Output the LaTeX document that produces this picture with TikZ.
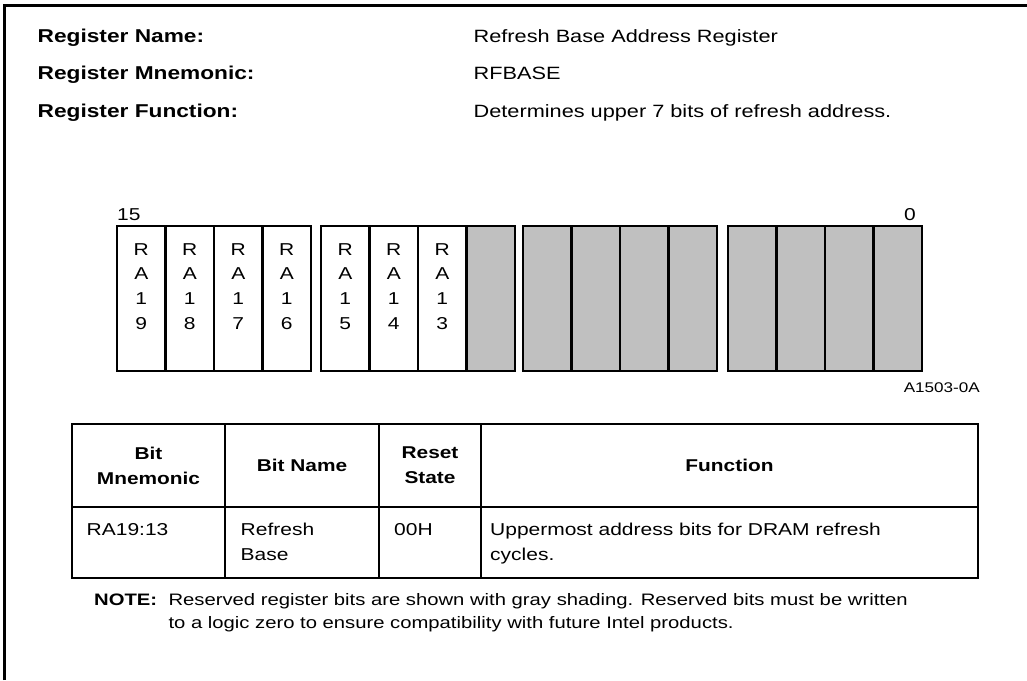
\documentclass[tikz,border=0pt]{standalone}
\usepackage{fontspec}
\setmainfont{Liberation Sans}[FakeStretch=1.22]
\usetikzlibrary{positioning}
\definecolor{regshade}{HTML}{C0C0C0}

\begin{document}
\begin{tikzpicture}[x=1pt,y=-1pt,
  bitcell/.style={rectangle, draw, line width=2.4pt, outer sep=0pt, inner sep=0pt,
                  minimum width=48.5pt, minimum height=145pt, anchor=north west},
  rsvcell/.style={bitcell, fill=regshade},
  bitlbl/.style={align=center, inner sep=0pt, font=\fontsize{17.2}{24.7}\selectfont},
  bitnum/.style={inner sep=0pt, font=\fontsize{17.2}{24.7}\selectfont},
  reglbl/.style={anchor=base west, inner sep=0pt, font=\bfseries\fontsize{18.6}{25}\selectfont},
  regval/.style={anchor=base west, inner sep=0pt, font=\fontsize{17.8}{25}\selectfont},
  hdrcell/.style={rectangle, draw, line width=2.4pt, outer sep=0pt, align=center,
                  minimum height=83pt, anchor=north west,
                  font=\bfseries\fontsize{17.1}{25}\selectfont},
  bodycell/.style={rectangle, draw, line width=2.4pt, outer sep=0pt,
                   minimum height=71pt, anchor=north west},
  bodytxt/.style={align=left, inner sep=0pt, font=\fontsize{17.2}{25}\selectfont}
]
  \useasboundingbox (0,0) rectangle (1027,680);
  \draw[line width=3pt] (4.3,680) -- (4.3,5.3) -- (1027,5.3);

  % register header
  \node[reglbl] (nmlbl) at (37.5,42) {Register Name:};
  \node[reglbl] (mnlbl) at (37.5,79) {Register Mnemonic:};
  \node[reglbl] (fnlbl) at (37.5,117) {Register Function:};
  \node[regval] (nmval) at (473.5,42) {Refresh Base Address Register};
  \node[regval] (mnval) at (473.5,79) {RFBASE};
  \node[regval] (fnval) at (473.5,117) {Determines upper 7 bits of refresh address.};

  % bit cells
  \node[bitcell] (b15) at (117,226) {};
  \node[bitcell,right=0pt of b15] (b14) {};
  \node[bitcell,right=0pt of b14] (b13) {};
  \node[bitcell,right=0pt of b13] (b12) {};
  \node[bitcell] (b11) at (321,226) {};
  \node[bitcell,right=0pt of b11] (b10) {};
  \node[bitcell,right=0pt of b10] (b9) {};
  \node[rsvcell,right=0pt of b9] (b8) {};
  \node[rsvcell] (b7) at (523,226) {};
  \node[rsvcell,right=0pt of b7] (b6) {};
  \node[rsvcell,right=0pt of b6] (b5) {};
  \node[rsvcell,right=0pt of b5] (b4) {};
  \node[rsvcell] (b3) at (728,226) {};
  \node[rsvcell,right=0pt of b3] (b2) {};
  \node[rsvcell,right=0pt of b2] (b1) {};
  \node[rsvcell,right=0pt of b1] (b0) {};

  \node[bitlbl,below=17pt of b15.north] (t15) {R\\A\\1\\9};
  \node[bitlbl,below=17pt of b14.north] (t14) {R\\A\\1\\8};
  \node[bitlbl,below=17pt of b13.north] (t13) {R\\A\\1\\7};
  \node[bitlbl,below=17pt of b12.north] (t12) {R\\A\\1\\6};
  \node[bitlbl,below=17pt of b11.north] (t11) {R\\A\\1\\5};
  \node[bitlbl,below=17pt of b10.north] (t10) {R\\A\\1\\4};
  \node[bitlbl,below=17pt of b9.north]  (t9)  {R\\A\\1\\3};

  \node[bitnum,above right=5pt and 0pt of b15.north west] (hi) {15};
  \node[bitnum,above left=5pt and 6pt of b0.north east] (lo) {0};
  \node[bitnum,anchor=base east,font=\fontsize{14}{17}\selectfont] (fig)
    at ([xshift=58pt,yshift=-21pt]b0.south east) {A1503-0A};

  % bit table
  \node[hdrcell,minimum width=153pt] (h1) at (72,424) {Bit\\Mnemonic};
  \node[hdrcell,minimum width=154pt,right=0pt of h1] (h2) {Bit Name};
  \node[hdrcell,minimum width=102pt,right=0pt of h2] (h3) {Reset\\State};
  \node[hdrcell,minimum width=497pt,right=0pt of h3] (h4) {Function};
  \node[bodycell,minimum width=153pt,below=0pt of h1] (c1) {};
  \node[bodycell,minimum width=154pt,below=0pt of h2] (c2) {};
  \node[bodycell,minimum width=102pt,below=0pt of h3] (c3) {};
  \node[bodycell,minimum width=497pt,below=0pt of h4] (c4) {};
  \node[bodytxt,below right=16pt and 14.5pt of c1.north west] (r1) {RA19:13};
  \node[bodytxt,below right=16pt and 15.5pt of c2.north west] (r2) {Refresh\\Base};
  \node[bodytxt,below right=16pt and 15pt of c3.north west] (r3) {00H};
  \node[bodytxt,below right=16pt and 9pt of c4.north west] (r4)
    {Uppermost address bits for DRAM refresh\\cycles.};

  % note
  \node[reglbl,font=\bfseries\fontsize{16.6}{23}\selectfont] (note) at (94,605) {NOTE:};
  \node[bodytxt,anchor=north west,font=\fontsize{16.6}{23}\selectfont] (notetxt) at (168.3,592.8)
    {Reserved register bits are shown with gray shading. Reserved bits must be written\\
     to a logic zero to ensure compatibility with future Intel products.};
\end{tikzpicture}
\end{document}
